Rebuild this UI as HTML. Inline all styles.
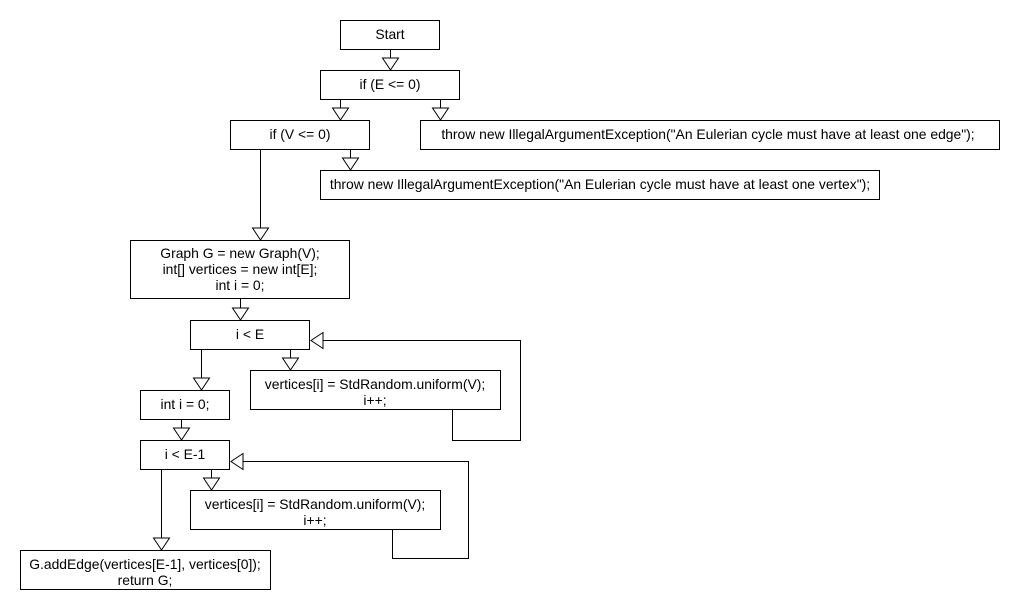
<!DOCTYPE html>
<html><head><style>
html,body{margin:0;padding:0;background:#fff;}
svg{display:block;}
text{font-family:"Liberation Sans",Arial,sans-serif;font-size:13.9px;fill:#000;text-anchor:middle;}
</style></head><body>
<svg width="1020" height="610" viewBox="0 0 1020 610" xmlns="http://www.w3.org/2000/svg">
<g fill="#fff" stroke="#000" stroke-width="1" shape-rendering="crispEdges">
<rect x="340.5" y="20.5" width="99" height="29"/>
<rect x="320.5" y="70.5" width="139" height="29"/>
<rect x="230.5" y="120.5" width="139" height="29"/>
<rect x="420.5" y="120.5" width="579" height="29"/>
<rect x="320.5" y="170.5" width="559" height="29"/>
<rect x="130.5" y="240.5" width="219" height="58"/>
<rect x="190.5" y="320.5" width="119" height="29"/>
<rect x="250.5" y="370.5" width="250" height="39"/>
<rect x="140.5" y="390.5" width="89" height="29"/>
<rect x="140.5" y="440.5" width="89" height="29"/>
<rect x="190.5" y="490.5" width="250" height="39"/>
<rect x="20.5" y="550.5" width="250" height="39"/>
</g>
<g fill="none" stroke="#000" stroke-width="1" shape-rendering="crispEdges">
<path d="M390.5 50V58"/>
<path d="M340.5 100V108"/>
<path d="M440.5 100V108"/>
<path d="M350.5 150V158"/>
<path d="M260.5 150V228"/>
<path d="M240.5 299V308"/>
<path d="M201.5 350V378"/>
<path d="M290.5 350V358"/>
<path d="M181.5 420V428"/>
<path d="M211.5 470V478"/>
<path d="M161.5 470V538"/>
<path d="M452.5 410V440.5H520.5V340.5H323"/>
<path d="M392.5 530V558.5H468.5V461.5H243"/>
</g>
<g fill="#fff" stroke="#000" stroke-width="1">
<path d="M382.5 58H398.5L390.5 70Z"/>
<path d="M332.5 108H348.5L340.5 120Z"/>
<path d="M432.5 108H448.5L440.5 120Z"/>
<path d="M342.5 158H358.5L350.5 170Z"/>
<path d="M252.5 228H268.5L260.5 240Z"/>
<path d="M232.5 308H248.5L240.5 320Z"/>
<path d="M193.5 378H209.5L201.5 390Z"/>
<path d="M282.5 358H298.5L290.5 370Z"/>
<path d="M173.5 428H189.5L181.5 440Z"/>
<path d="M203.5 478H219.5L211.5 490Z"/>
<path d="M153.5 538H169.5L161.5 550Z"/>
<path d="M323 332.5V348.5L311 340.5Z"/>
<path d="M243 453.5V469.5L231 461.5Z"/>
</g>
<text x="390" y="39">Start</text>
<text x="390" y="89">if (E &lt;= 0)</text>
<text x="300" y="139">if (V &lt;= 0)</text>
<text x="708" y="139">throw new IllegalArgumentException("An Eulerian cycle must have at least one edge");</text>
<text x="600" y="189">throw new IllegalArgumentException("An Eulerian cycle must have at least one vertex");</text>
<text x="240" y="258">Graph G = new Graph(V);</text>
<text x="240" y="274">int[] vertices = new int[E];</text>
<text x="240" y="290">int i = 0;</text>
<text x="250" y="339">i &lt; E</text>
<text x="375" y="389">vertices[i] = StdRandom.uniform(V);</text>
<text x="375" y="405">i++;</text>
<text x="185" y="409">int i = 0;</text>
<text x="185" y="459">i &lt; E-1</text>
<text x="315" y="509">vertices[i] = StdRandom.uniform(V);</text>
<text x="315" y="525">i++;</text>
<text x="145" y="569">G.addEdge(vertices[E-1], vertices[0]);</text>
<text x="145" y="585">return G;</text>
</svg>
</body></html>
